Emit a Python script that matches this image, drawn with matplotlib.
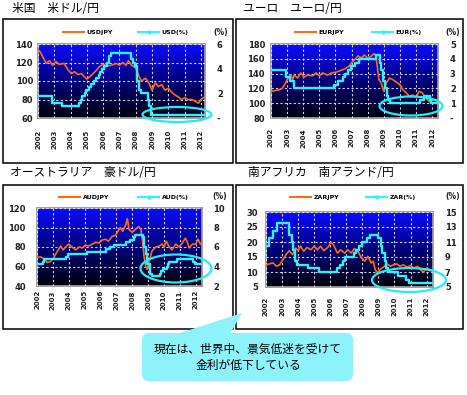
import matplotlib
matplotlib.use('Agg')
import matplotlib.pyplot as plt
import numpy as np
from matplotlib.patches import Ellipse, Rectangle, FancyBboxPatch, Polygon
from matplotlib.lines import Line2D
from matplotlib.colors import LinearSegmentedColormap

plt.rcParams['font.family'] = ['DejaVu Sans']
JP = ['Noto Sans CJK JP', 'DejaVu Sans']

# ---------------- data ----------------
years = list(range(2002, 2013))

# USD/JPY
usd_fx_t = [2002.0, 2002.15, 2002.3, 2002.5, 2002.7, 2002.9, 2003.1, 2003.3, 2003.6, 2003.85, 2004.05,
            2004.25, 2004.45, 2004.65, 2005.0, 2005.2, 2005.5, 2005.8, 2006.0, 2006.2, 2006.5, 2006.8,
            2007.0, 2007.2, 2007.4, 2007.55, 2007.75, 2008.0, 2008.2, 2008.35, 2008.6, 2008.8, 2009.0,
            2009.2, 2009.4, 2009.6, 2009.8, 2010.0, 2010.2, 2010.4, 2010.6, 2010.8, 2011.0, 2011.2,
            2011.45, 2011.65, 2011.85, 2012.0, 2012.15]
usd_fx = [134, 131, 126, 119, 122, 117, 121, 118, 119, 112, 108,
          110, 107, 108, 102, 105, 110, 116, 118, 116, 117, 119,
          117, 120, 117, 122, 117, 114, 105, 100, 103, 98, 90,
          98, 94, 96, 90, 92, 88, 85, 83, 80, 82, 80,
          80, 78, 76, 80, 82]
usd_rate_t = [2002.0, 2002.85, 2003.48, 2004.5, 2004.62, 2004.72, 2004.87, 2004.95, 2005.1, 2005.23,
              2005.42, 2005.58, 2005.72, 2005.83, 2005.95, 2006.08, 2006.23, 2006.36, 2006.49,
              2007.72, 2007.83, 2007.95, 2008.06, 2008.21, 2008.33, 2008.77, 2008.83, 2008.96, 2012.2]
usd_rate = [1.75, 1.25, 1.0, 1.25, 1.5, 1.75, 2.0, 2.25, 2.5, 2.75,
            3.0, 3.25, 3.5, 3.75, 4.0, 4.25, 4.5, 5.0, 5.25,
            4.75, 4.5, 4.25, 3.0, 2.25, 2.0, 1.5, 1.0, 0.25, 0.25]

# EUR/JPY
eur_fx_t = [2002.0, 2002.25, 2002.5, 2002.7, 2002.9, 2003.1, 2003.25, 2003.35, 2003.45, 2003.65, 2003.85,
            2004.05, 2004.25, 2004.6, 2004.8, 2005.0, 2005.2, 2005.5, 2005.8, 2006.05, 2006.3, 2006.55,
            2006.85, 2007.05, 2007.3, 2007.4, 2007.6, 2007.8, 2008.0, 2008.2, 2008.4, 2008.5, 2008.6,
            2008.7, 2008.85, 2009.0, 2009.15, 2009.35, 2009.55, 2009.75, 2010.0, 2010.2, 2010.4, 2010.6,
            2010.8, 2011.0, 2011.2, 2011.4, 2011.6, 2011.85, 2012.05, 2012.3]
eur_fx = [116, 117, 118, 120, 127, 136, 138, 132, 138, 134, 141,
          135, 138, 137, 141, 137, 141, 138, 141, 142, 144, 146,
          150, 156, 161, 164, 161, 165, 161, 163, 167, 165, 150,
          132, 127, 116, 127, 134, 132, 129, 125, 118, 114, 109,
          111, 108, 116, 114, 107, 102, 105, 104]
eur_rate_t = [2002.0, 2002.93, 2003.18, 2003.45, 2005.93, 2006.18, 2006.45, 2006.6, 2006.77, 2006.95,
              2007.2, 2007.45, 2008.52, 2008.77, 2008.85, 2008.95, 2009.05, 2009.18, 2009.27, 2009.37,
              2011.27, 2011.52, 2011.85, 2011.95, 2012.35]
eur_rate = [3.25, 2.75, 2.5, 2.0, 2.25, 2.5, 2.75, 3.0, 3.25, 3.5,
            3.75, 4.0, 4.25, 3.75, 3.25, 2.5, 2.0, 1.5, 1.25, 1.0,
            1.25, 1.5, 1.25, 1.0, 1.0]

# AUD/JPY
aud_fx_t = [2002.0, 2002.2, 2002.45, 2002.65, 2002.85, 2003.05, 2003.3, 2003.5, 2003.65, 2003.8, 2004.0,
            2004.2, 2004.45, 2004.65, 2004.85, 2005.05, 2005.25, 2005.5, 2005.7, 2005.9, 2006.1, 2006.3,
            2006.5, 2006.75, 2006.95, 2007.1, 2007.25, 2007.4, 2007.6, 2007.7, 2007.8, 2008.0, 2008.2,
            2008.4, 2008.55, 2008.65, 2008.75, 2008.85, 2008.95, 2009.05, 2009.25, 2009.5, 2009.7,
            2009.9, 2010.0, 2010.15, 2010.3, 2010.5, 2010.75, 2010.95, 2011.15, 2011.35, 2011.45,
            2011.6, 2011.8, 2012.0, 2012.15, 2012.3]
aud_fx = [69, 70, 68, 64, 65, 69, 76, 81, 77, 80, 83,
          80, 77, 80, 79, 82, 81, 83, 85, 84, 87, 88,
          86, 91, 92, 96, 100, 96, 103, 109, 98, 95, 98,
          101, 98, 86, 70, 60, 57, 64, 76, 80, 81,
          83, 80, 86, 81, 77, 83, 80, 84, 89, 86,
          79, 83, 83, 88, 83]
aud_rate_t = [2002.0, 2002.35, 2002.43, 2003.85, 2003.93, 2005.17, 2006.37, 2006.6, 2006.85, 2007.6,
              2007.85, 2008.1, 2008.18, 2008.68, 2008.76, 2008.84, 2008.93, 2009.1, 2009.26, 2009.76,
              2009.84, 2009.93, 2010.18, 2010.26, 2010.34, 2010.84, 2011.84, 2011.93, 2012.35]
aud_rate = [4.25, 4.5, 4.75, 5.0, 5.25, 5.5, 5.75, 6.0, 6.25, 6.5,
            6.75, 7.0, 7.25, 7.0, 6.0, 5.25, 4.25, 3.25, 3.0, 3.25,
            3.5, 3.75, 4.0, 4.25, 4.5, 4.75, 4.5, 4.25, 4.25]

# ZAR/JPY
zar_fx_t = [2002.0, 2002.2, 2002.45, 2002.65, 2002.85, 2003.05, 2003.25, 2003.45, 2003.65, 2003.85, 2004.0,
            2004.15, 2004.35, 2004.55, 2004.8, 2005.0, 2005.2, 2005.4, 2005.6, 2005.85, 2006.05, 2006.2,
            2006.45, 2006.65, 2006.9, 2007.1, 2007.3, 2007.5, 2007.7, 2007.95, 2008.15, 2008.35, 2008.55,
            2008.68, 2008.8, 2008.95, 2009.1, 2009.3, 2009.55, 2009.75, 2009.95, 2010.15, 2010.35,
            2010.55, 2010.8, 2011.0, 2011.2, 2011.45, 2011.6, 2011.8, 2012.0, 2012.2, 2012.35]
zar_fx = [12.4, 12.7, 13.0, 11.9, 12.4, 14.1, 15.8, 17.1, 15.8, 18.0, 17.1,
          18.6, 16.9, 18.2, 17.4, 18.6, 17.4, 18.6, 17.1, 18.2, 19.9, 19.1,
          16.3, 17.4, 16.3, 17.4, 16.3, 17.8, 17.1, 14.7, 13.6, 15.2, 13.0,
          13.6, 10.8, 9.7, 10.8, 11.6, 12.7, 11.9, 12.4, 12.7, 11.9,
          12.4, 11.6, 12.2, 11.3, 11.9, 10.8, 10.0, 11.3, 10.8, 10.6]
zar_rate_t = [2002.0, 2002.2, 2002.45, 2002.7, 2003.45, 2003.62, 2003.7, 2003.8, 2003.95, 2004.62,
              2005.3, 2006.45, 2006.6, 2006.8, 2006.95, 2007.45, 2007.62, 2007.8, 2007.95, 2008.28,
              2008.45, 2008.95, 2009.15, 2009.25, 2009.38, 2009.45, 2009.62, 2010.2, 2010.7, 2010.88,
              2012.4]
zar_rate = [10.5, 11.5, 12.5, 13.5, 12.0, 11.0, 10.0, 8.5, 8.0, 7.5,
            7.0, 7.5, 8.0, 8.5, 9.0, 9.5, 10.0, 10.5, 11.0, 11.5,
            12.0, 11.5, 10.5, 9.5, 8.5, 7.5, 7.0, 6.5, 6.0, 5.5,
            5.5]

titles = ['米国　米ドル/円', 'ユーロ　ユーロ/円', 'オーストラリア　豪ドル/円', '南アフリカ　南アランド/円']
fx_labels = ['USDJPY', 'EURJPY', 'AUDJPY', 'ZARJPY']
rate_labels = ['USD(%)', 'EUR(%)', 'AUD(%)', 'ZAR(%)']
left_ticks = [[60, 80, 100, 120, 140], [80, 100, 120, 140, 160, 180],
              [40, 60, 80, 100, 120], [5, 10, 15, 20, 25, 30]]
right_ticks = [[0, 2, 4, 6], [0, 1, 2, 3, 4, 5], [2, 4, 6, 8, 10], [5, 7, 9, 11, 13, 15]]
right_ticklabels = [['-', '2', '4', '6'], ['-', '1', '2', '3', '4', '5'],
                    ['2', '4', '6', '8', '10'], ['5', '7', '9', '11', '13', '15']]
note = '現在は、世界中、景気低迷を受けて\n金利が低下している'

series = [(usd_fx_t, usd_fx, usd_rate_t, usd_rate),
          (eur_fx_t, eur_fx, eur_rate_t, eur_rate),
          (aud_fx_t, aud_fx, aud_rate_t, aud_rate),
          (zar_fx_t, zar_fx, zar_rate_t, zar_rate)]

# ---------------- layout (pixels) ----------------
W, H = 467, 395
fig = plt.figure(figsize=(W / 100, H / 100), dpi=100)

def frac(x0, y0, x1, y1):
    return [x0 / W, 1 - y1 / H, (x1 - x0) / W, (y1 - y0) / H]

layout = [
    dict(plot=(38, 44, 205, 118), xmax=2012.25, title=(12, 8), leg_y=32, leg1=63, leg2=138, pct=221,
         lpad=3.6, xpad=8.6, rpad=8.6, frame=(3, 19, 233, 163), ell=(177, 114.5, 69, 15)),
    dict(plot=(271, 44, 438, 118), xmax=2012.37, title=(243, 8), leg_y=32, leg1=295, leg2=372, pct=453,
         lpad=4.3, xpad=7.2, rpad=8.6, frame=(236, 19, 463, 163), ell=(411, 106, 63, 19)),
    dict(plot=(37, 208, 202, 286), xmax=2012.4, title=(10, 173), leg_y=197, leg1=59, leg2=138, pct=220,
         lpad=8.0, xpad=3.0, rpad=8.0, frame=(3, 185, 233, 329), ell=(176, 268.5, 71, 28)),
    dict(plot=(266, 212, 433, 287), xmax=2012.4, title=(248, 173), leg_y=197, leg1=290, leg2=366, pct=453,
         lpad=5.8, xpad=7.2, rpad=8.6, frame=(236, 185, 463, 329), ell=(409, 280, 74, 24)),
]

ORANGE = '#ff6a12'
CYAN = '#2ef2ff'
cmap = LinearSegmentedColormap.from_list('bg', ['#00000a', '#00007a', '#0c0cff'])
grad = np.linspace(1, 0, 256).reshape(-1, 1)

for i in range(4):
    L = layout[i]
    fx_t, fx, r_t, r = series[i]
    ax = fig.add_axes(frac(*L['plot']))
    lt = left_ticks[i]
    rt = right_ticks[i]
    ax.imshow(grad, extent=[2002, L['xmax'], lt[0], lt[-1]], cmap=cmap, aspect='auto',
              origin='upper', zorder=0, interpolation='bilinear')
    ax.plot(fx_t, fx, color=ORANGE, lw=1.2, zorder=3)
    ax.set_xlim(2002, L['xmax'])
    ax.set_ylim(lt[0], lt[-1])
    ax.set_yticks(lt)
    ax.set_yticklabels([str(v) for v in lt])
    ax.set_xticks(years)
    ax.set_xticklabels([str(y) for y in years], rotation=90)
    ax.grid(True, color='#e8e8ff', lw=0.8, ls=(0, (2, 2)), alpha=0.9)
    ax.set_axisbelow(False)
    for s in ax.spines.values():
        s.set_color('#9a9a9a')
        s.set_linewidth(1.3)
    ax.tick_params(axis='y', length=0, labelsize=6, pad=L['lpad'], labelcolor='#202020')
    ax.tick_params(axis='x', length=0, labelsize=5, pad=L['xpad'], labelcolor='#202020')
    for t in ax.get_yticklabels() + ax.get_xticklabels():
        t.set_fontweight('bold')

    tw = ax.twinx()
    tw.step(r_t, r, where='post', color=CYAN, lw=1.7, zorder=4)
    tw.set_ylim(rt[0], rt[-1])
    tw.set_yticks(rt)
    tw.set_yticklabels(right_ticklabels[i])
    tw.tick_params(axis='y', length=0, labelsize=6, pad=L['rpad'], labelcolor='#202020')
    for t in tw.get_yticklabels():
        t.set_fontweight('bold')
    for s in tw.spines.values():
        s.set_visible(False)

    # legends
    h1 = Line2D([], [], color=ORANGE, lw=1.5)
    h2 = Line2D([], [], color=CYAN, lw=1.5, marker='o', ms=2)
    common = dict(loc='center left', bbox_transform=fig.transFigure, frameon=False,
                  prop=dict(size=4.5, weight='bold'), handlelength=3.4, handletextpad=0.4,
                  borderpad=0, borderaxespad=0)
    lg1 = ax.legend([h1], [fx_labels[i]], bbox_to_anchor=(L['leg1'] / W, 1 - L['leg_y'] / H), **common)
    tw.legend([h2], [rate_labels[i]], bbox_to_anchor=(L['leg2'] / W, 1 - L['leg_y'] / H), **common)

    fig.text(L['pct'] / W, 1 - L['leg_y'] / H, '(%)', ha='center', va='center', size=5.5,
             weight='bold', color='#202020')
    fig.text(L['title'][0] / W, 1 - L['title'][1] / H, titles[i], family=JP, size=8.5,
             va='center', ha='left', color='black')

# overlay: frames, ellipses, callout
ov = fig.add_axes([0, 0, 1, 1], zorder=10)
ov.set_xlim(0, W)
ov.set_ylim(H, 0)
ov.axis('off')
ov.patch.set_alpha(0)
for L in layout:
    x0, y0, x1, y1 = L['frame']
    ov.add_patch(Rectangle((x0, y0), x1 - x0, y1 - y0, fill=False, ec='black', lw=1.1))
    cx, cy, ew, eh = L['ell']
    ov.add_patch(Ellipse((cx, cy), ew, eh, fill=False, ec='#22ecf8', lw=1.6))

CALL = '#8ef2fa'
ov.add_patch(FancyBboxPatch((142, 333), 211, 48, boxstyle='round,pad=0,rounding_size=7',
                            fc=CALL, ec='none'))
ov.add_patch(Polygon([(177, 334), (242, 313), (230, 334)], closed=True, fc=CALL, ec='none'))
ov.text(248, 357.5, note, family=JP, size=8.5, ha='center', va='center',
        multialignment='center', linespacing=1.3, color='black')

fig.savefig('out.png', dpi=100)
